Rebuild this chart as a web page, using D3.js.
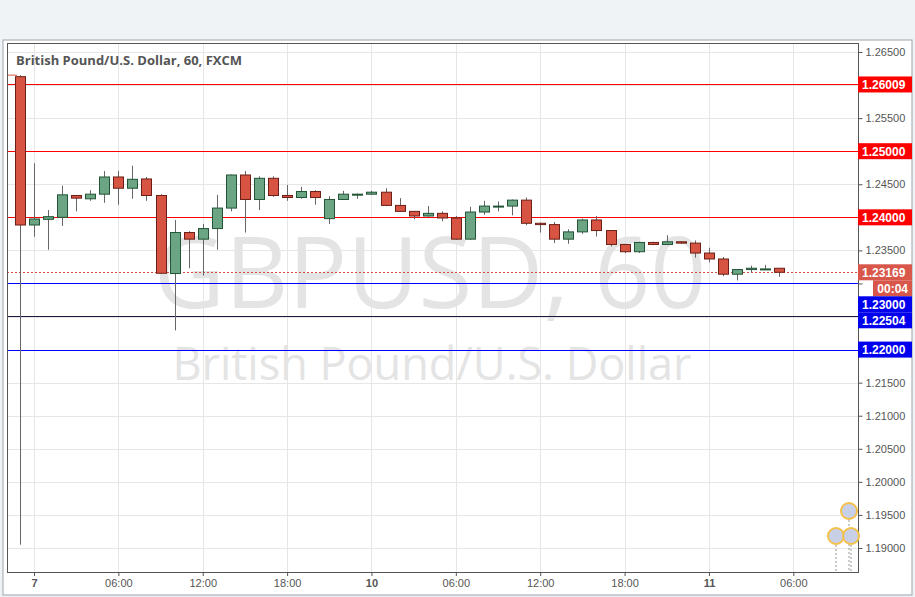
<!DOCTYPE html>
<html><head><meta charset="utf-8">
<script src="https://cdn.jsdelivr.net/npm/d3@7"></script>
<style>body{margin:0;background:#f0f3f5;font-family:"Open Sans",Arial,sans-serif}</style>
</head><body><svg id="c" width="915" height="597"></svg>
<script>
const opens =[1.26127,1.23884,1.2397,1.2400,1.2433,1.2428,1.2435,1.2461,1.2444,1.2458,1.2433,1.2315,1.2377,1.2367,1.2383,1.2414,1.2464,1.2427,1.2459,1.2433,1.2430,1.2439,1.2398,1.2427,1.2434,1.2435,1.2438,1.2418,1.2409,1.2402,1.2406,1.2399,1.2367,1.2408,1.2417,1.2417,1.2426,1.2391,1.2389,1.2367,1.2378,1.2396,1.2380,1.2359,1.2348,1.2362,1.2359,1.2363,1.2361,1.2346,1.2337,1.2314,1.2321,1.2322,1.2323];
const closes=[1.23884,1.23975,1.2401,1.2434,1.2429,1.2435,1.2461,1.2444,1.24575,1.2433,1.23154,1.2377,1.2367,1.2383,1.2414,1.2464,1.2427,1.2459,1.2433,1.2430,1.2439,1.2430,1.2427,1.2435,1.2435,1.2438,1.2418,1.2409,1.2402,1.2406,1.2399,1.2367,1.2408,1.2417,1.2417,1.2426,1.2391,1.2389,1.2367,1.2378,1.2396,1.2380,1.2359,1.2348,1.2362,1.2359,1.2363,1.2361,1.2346,1.2337,1.2314,1.2321,1.2323,1.2322,1.23169];
const highs =[1.26150,1.24817,1.2411,1.2448,1.2433,1.2441,1.2470,1.2470,1.2478,1.2461,1.2435,1.2396,1.2379,1.2390,1.2434,1.2465,1.2470,1.2462,1.2462,1.2449,1.2446,1.2441,1.2432,1.2440,1.2436,1.2440,1.2444,1.2429,1.2409,1.2417,1.2409,1.2402,1.2416,1.2425,1.2424,1.2427,1.2430,1.2392,1.2393,1.2382,1.2398,1.2402,1.2380,1.2360,1.2363,1.2363,1.2373,1.2364,1.2365,1.2354,1.2340,1.2321,1.2327,1.2328,1.2323];
const lows  =[1.19050,1.23707,1.2351,1.2387,1.2409,1.2425,1.2422,1.2419,1.2428,1.2425,1.2315,1.2229,1.2323,1.2312,1.2351,1.2409,1.2377,1.2411,1.2431,1.2425,1.2428,1.2419,1.2390,1.2427,1.2428,1.2434,1.2417,1.2409,1.2397,1.2401,1.2394,1.2366,1.2366,1.2404,1.2409,1.2403,1.2388,1.2377,1.2361,1.2360,1.2375,1.2371,1.2356,1.2346,1.2346,1.2358,1.2358,1.2360,1.2339,1.2332,1.2311,1.23046,1.2316,1.2321,1.2310];
const xTickIdx=[1,7,13,19,25,31,37,43,49,55];
const xTickLabels=["7","06:00","12:00","18:00","10","06:00","12:00","18:00","11","06:00"];
const yTicks=[1.265,1.26,1.255,1.25,1.245,1.24,1.235,1.23,1.225,1.22,1.215,1.21,1.205,1.2,1.195,1.19];
const resLevels=[1.26009,1.25,1.24];
const supLevels=[1.23,1.22504,1.22];
const lastPrice=1.23169;

const svg=d3.select("#c");
const L=7,R=858,T=43,B=572;
const x=d3.scaleLinear().domain([-0.92,59.6]).range([L,R]);
const y=d3.scaleLinear().domain([1.26636,1.18637]).range([T,B]);
const py=p=>Math.round(y(p))+0.5;
svg.append("rect").attr("x",3).attr("y",40).attr("width",909).attr("height",555).attr("fill","#fff").attr("stroke","#9aa3ab");
const g=svg.append("g");
g.selectAll("line.vg").data(xTickIdx).join("line").attr("class","vg").attr("x1",d=>Math.round(x(d))+0.5).attr("x2",d=>Math.round(x(d))+0.5).attr("y1",T).attr("y2",B).attr("stroke","#e6e6e6");
g.selectAll("line.hg").data(yTicks).join("line").attr("class","hg").attr("x1",L).attr("x2",R).attr("y1",py).attr("y2",py).attr("stroke","#e6e6e6");
g.append("text").attr("x",430).attr("y",308).attr("text-anchor","middle").attr("font-size",98).attr("fill","#e4e4e4").text("GBPUSD, 60");
g.append("text").attr("x",432).attr("y",380).attr("text-anchor","middle").attr("font-size",45).attr("fill","#e4e4e4").text("British Pound/U.S. Dollar");
g.append("text").attr("x",16).attr("y",65).attr("font-size",13).attr("font-weight","bold").attr("fill","#555").text("British Pound/U.S. Dollar, 60, FXCM");
g.selectAll("line.rl").data(resLevels).join("line").attr("class","rl").attr("x1",L).attr("x2",R).attr("y1",py).attr("y2",py).attr("stroke","#ff0000");
g.selectAll("line.sl").data(supLevels).join("line").attr("class","sl").attr("x1",L).attr("x2",R).attr("y1",py).attr("y2",py).attr("stroke",(d,i)=>i==1?"#1a1a40":"#0000ff");
g.append("line").attr("x1",L).attr("x2",R).attr("y1",py(lastPrice)).attr("y2",py(lastPrice)).attr("stroke","#d05040").attr("stroke-dasharray","2,2");
const bw=10;
const idx=d3.range(opens.length);
g.selectAll("line.wk").data(idx).join("line").attr("class","wk").attr("x1",i=>Math.round(x(i))+0.5).attr("x2",i=>Math.round(x(i))+0.5).attr("y1",i=>y(highs[i])).attr("y2",i=>y(lows[i])).attr("stroke","#666");
g.selectAll("rect.bd").data(idx).join("rect").attr("class","bd").attr("x",i=>Math.round(x(i))-bw/2+0.5).attr("width",bw)
 .attr("y",i=>y(Math.max(opens[i],closes[i]))).attr("height",i=>Math.max(1,Math.abs(y(opens[i])-y(closes[i]))))
 .attr("fill",i=>closes[i]>=opens[i]?"#6ba583":"#d75442").attr("stroke",i=>closes[i]>=opens[i]?"#225437":"#6b1f17").attr("stroke-width",1);
g.append("line").attr("x1",L).attr("x2",L+10).attr("y1",y(highs[0])).attr("y2",y(highs[0])).attr("stroke","#d75442");
svg.append("rect").attr("x",L+0.5).attr("y",T+0.5).attr("width",R-L).attr("height",B-T).attr("fill","none").attr("stroke","#555");
// labels with collision stacking
let labs=[...resLevels.map(p=>({p,t:d3.format(".5f")(p),c:"#ff0000"})),{p:lastPrice,t:d3.format(".5f")(lastPrice),c:"#d9574a"},{p:lastPrice,t:"00:04",c:"#d9574a",cd:true},...supLevels.map(p=>({p,t:d3.format(".5f")(p),c:"#0000ee"}))];
labs.sort((a,b)=>b.p-a.p||(a.cd?1:-1));
let last=-1e9;const h=16;
labs.forEach(l=>{let cy=y(l.p);if(l.cd)cy=last+h-1; if(cy<last+h)cy=last+h; l.cy=cy; last=cy;});
const ya=svg.append("g").attr("transform",`translate(${R+0.5},0)`).call(d3.axisRight(y).tickValues(yTicks).tickFormat(d3.format(".5f")).tickSize(4));
ya.select(".domain").remove();ya.selectAll("line").attr("stroke","#555");ya.selectAll("text").attr("font-size",11).attr("fill","#555").attr("font-family","Arial");
ya.selectAll(".tick").filter(d=>labs.some(l=>Math.abs(l.cy-y(d))<h)).select("text").remove();
const xa=svg.append("g").attr("transform",`translate(0,${B})`).call(d3.axisBottom(x).tickValues(xTickIdx).tickFormat((d,i)=>xTickLabels[i]).tickSize(4));
xa.select(".domain").remove();xa.selectAll("line").attr("stroke","#555");xa.selectAll("text").attr("font-size",11).attr("fill","#555").attr("font-family","Arial").attr("font-weight",(d,i)=>xTickLabels[i].length<3?"bold":"normal");
labs.forEach(l=>{const x0=l.cd?873:R;svg.append("rect").attr("x",x0).attr("y",l.cy-h/2).attr("width",912-x0).attr("height",h).attr("fill",l.c);
 svg.append("text").attr("x",l.cd?908:862).attr("y",l.cy+4.5).attr("text-anchor",l.cd?"end":"start").attr("font-size",12).attr("font-weight","bold").attr("fill","#fff").attr("font-family","Arial").text(l.t);});
// event flags
[[849,511],[836,536],[851,536]].forEach(([cx,cy])=>{svg.append("line").attr("x1",cx).attr("x2",cx).attr("y1",cy+9).attr("y2",B).attr("stroke","#999").attr("stroke-dasharray","2,2");
 svg.append("circle").attr("cx",cx).attr("cy",cy).attr("r",8).attr("fill","#c8d0e8").attr("stroke","#f5c04a").attr("stroke-width",2);});
</script></body></html>
